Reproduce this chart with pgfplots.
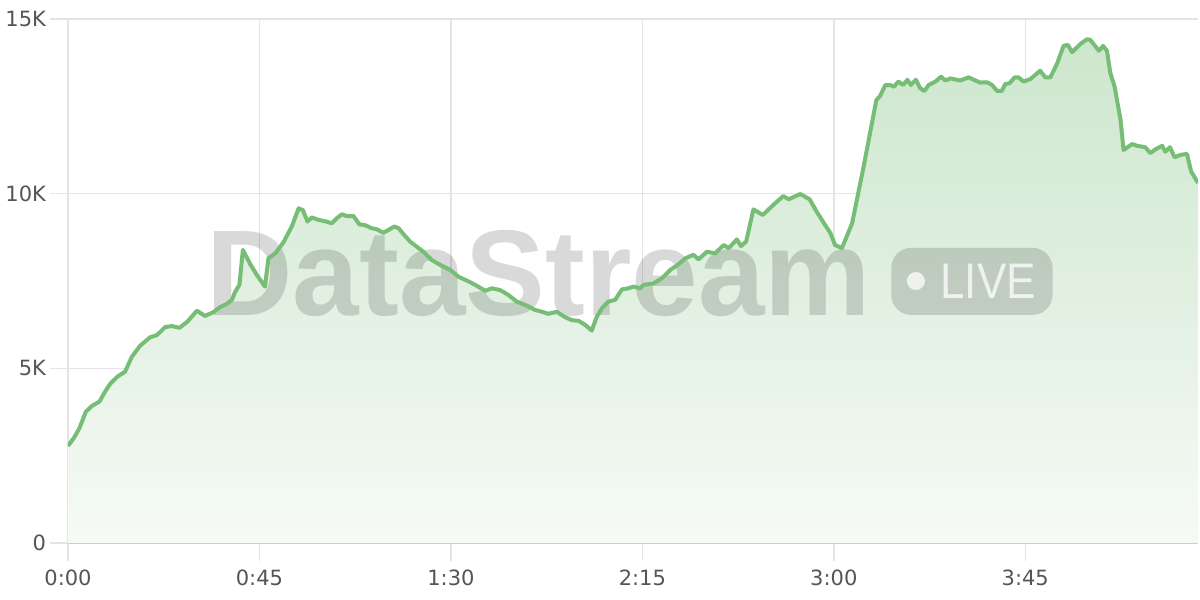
\documentclass[border=0pt]{standalone}
\usepackage{fontspec}
\setmainfont{DejaVu Sans}
\newfontfamily\wmfont{Liberation Sans}
\usepackage{pgfplots}
\usepackage{pgfplotstable}
\pgfplotsset{compat=1.18}
\definecolor{linegreen}{HTML}{76BD76}
\definecolor{gridgray}{HTML}{E4E4E4}
\definecolor{labelgray}{HTML}{555555}
\definecolor{filltop}{HTML}{CDE6CD}
\definecolor{fillbot}{HTML}{F6FAF6}

\pgfplotstableread{
x y
0 2.78
1.4 3.01
2.7 3.29
4.2 3.76
5.6 3.92
7.4 4.05
8.7 4.33
10.0 4.57
11.8 4.78
13.4 4.90
15.0 5.33
16.9 5.64
19.3 5.89
20.9 5.95
22.8 6.18
24.4 6.21
26.2 6.16
28.1 6.34
30.3 6.65
32.2 6.50
34.2 6.61
35.7 6.75
37.3 6.84
38.5 6.96
39.3 7.19
40.3 7.39
41.1 8.39
42.8 7.99
44.4 7.67
46.3 7.34
47.1 8.15
48.7 8.29
50.6 8.60
52.6 9.06
54.2 9.58
55.2 9.53
56.3 9.20
57.3 9.32
58.9 9.25
60.8 9.20
62.0 9.15
63.2 9.30
64.4 9.41
65.5 9.36
67.1 9.36
68.5 9.12
69.8 9.10
71.4 9.01
72.6 8.98
74.1 8.88
75.3 8.96
76.7 9.06
77.7 9.01
79.0 8.82
80.4 8.63
82.0 8.48
83.5 8.34
85.5 8.10
87.5 7.96
89.8 7.82
91.8 7.62
93.8 7.51
95.7 7.39
98.1 7.22
99.6 7.29
101.6 7.24
103.5 7.10
105.5 6.91
107.9 6.79
109.8 6.67
111.4 6.62
112.9 6.56
114.9 6.62
116.6 6.48
118.4 6.38
120.0 6.36
121.6 6.24
123.1 6.08
124.3 6.48
125.5 6.72
127.0 6.91
128.6 6.96
130.2 7.26
131.7 7.29
132.9 7.34
134.5 7.29
135.3 7.39
137.6 7.43
139.6 7.58
141.6 7.82
143.5 7.98
145.1 8.15
147.0 8.25
148.2 8.12
150.2 8.34
152.1 8.29
154.1 8.53
155.3 8.44
157.2 8.69
158.2 8.50
159.4 8.63
161.1 9.55
163.3 9.39
165.8 9.68
168.1 9.93
169.4 9.84
172.1 9.99
174.3 9.84
176.0 9.48
177.6 9.17
179.2 8.87
180.3 8.53
181.9 8.44
184.3 9.15
187.0 10.77
190.0 12.68
190.9 12.80
192.1 13.11
193.3 13.11
194.1 13.06
195.2 13.21
196.3 13.11
197.3 13.26
198.1 13.11
199.3 13.26
200.3 13.02
201.3 12.94
202.3 13.11
203.9 13.21
205.2 13.35
206.2 13.24
207.4 13.30
209.7 13.24
211.7 13.33
214.4 13.18
216.0 13.19
217.2 13.11
218.4 12.94
219.5 12.94
220.3 13.14
221.3 13.16
222.5 13.33
223.4 13.33
224.6 13.21
226.2 13.28
228.5 13.52
229.7 13.33
230.9 13.33
232.5 13.73
234.0 14.23
235.0 14.26
236.0 14.05
238.0 14.29
239.5 14.42
240.3 14.40
242.3 14.09
243.3 14.23
244.2 14.09
245.0 13.45
246.0 13.06
247.4 12.11
248.1 11.25
250.1 11.42
251.3 11.37
253.2 11.33
254.4 11.16
255.6 11.27
257.2 11.37
257.9 11.20
259.0 11.33
260.1 11.04
261.5 11.11
263.0 11.14
264.0 10.63
265.6 10.31
}\datatable

\begin{document}
\begin{tikzpicture}
\begin{axis}[
  width=565pt, height=262pt, scale only axis,
  xmin=0, xmax=265.6, ymin=0, ymax=15,
  axis x line*=bottom, axis y line*=left,
  axis line style={-},
  x axis line style={draw=black!22, line width=1pt},
  y axis line style={draw=none},
  xtick={0,45,90,135,180,225},
  xticklabels={0:00,0:45,1:30,2:15,3:00,3:45},
  ytick={0,5,10,15},
  yticklabels={0,5K,10K,15K},
  grid=major,
  grid style={gridgray, line width=0.75pt},
  tick style={gridgray, line width=0.75pt},
  tick align=outside,
  major tick length=9pt,
  ticklabel style={font=\fontsize{10.5}{12}\selectfont, text=labelgray},
  yticklabel style={xshift=1.5pt},
  xticklabel style={yshift=-1pt},
  /pgf/number format/assume math mode=true,
]
\addplot[draw=none, top color=filltop, bottom color=fillbot] table[x=x,y=y] {\datatable} \closedcycle;

\node[anchor=base west, inner sep=0, font=\wmfont\bfseries\fontsize{61}{61}\selectfont, text=black, opacity=0.15, xscale=0.98] at (axis cs:32.5,6.5) {DataStream};
\fill[black, opacity=0.15, rounded corners=10pt] (axis cs:193.5,6.53) rectangle (axis cs:231.4,8.45);
\fill[white, opacity=0.75] (axis cs:199.3,7.5) circle[radius=4.5pt];
\node[anchor=base west, inner sep=0, font=\wmfont\fontsize{25}{25}\selectfont, text=white, opacity=0.75, xscale=0.88] at (axis cs:205,7.0) {LIVE};

\addplot[linegreen, line width=2pt, line join=round, no markers] table[x=x,y=y] {\datatable};
\end{axis}
\pgfresetboundingbox
\path ([shift={(-34pt,-28.5pt)}]current axis.south west) rectangle ([shift={(1pt,9.5pt)}]current axis.north east);
\end{tikzpicture}
\end{document}
